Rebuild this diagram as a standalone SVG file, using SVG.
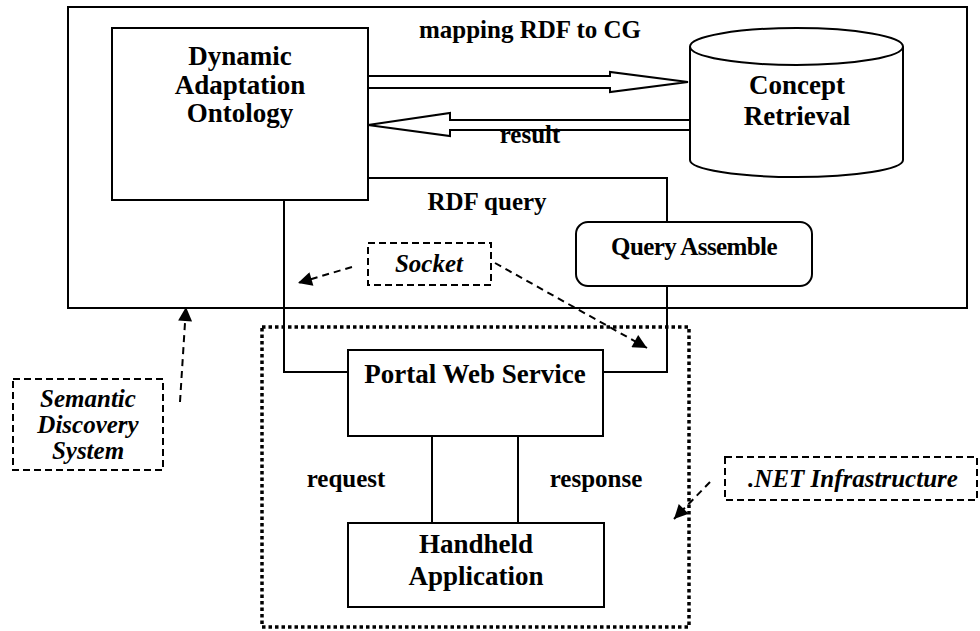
<svg xmlns="http://www.w3.org/2000/svg" width="980" height="631" viewBox="0 0 980 631">
  <defs>
    <style>
      .box { fill: #fff; stroke: #000; stroke-width: 2; }
      .frame { fill: none; stroke: #000; stroke-width: 2; }
      .dash { fill: none; stroke: #000; stroke-width: 2; stroke-dasharray: 7 4; }
      .dots { fill: none; stroke: #000; stroke-width: 3.5; stroke-dasharray: 3.5 3; }
      .wire { fill: none; stroke: #000; stroke-width: 2; }
      .block { fill: #fff; stroke: #000; stroke-width: 2; stroke-linejoin: miter; }
      .ptr { fill: none; stroke: #000; stroke-width: 2; stroke-dasharray: 7 5; marker-end: url(#head); }
      text { font-family: "Liberation Serif", "Times New Roman", serif; font-weight: bold; fill: #000; text-anchor: middle; }
      .t27 { font-size: 27px; }
      .t25 { font-size: 25px; }
      .it { font-style: italic; font-size: 25px; }
    </style>
    <marker id="head" viewBox="0 0 10 10" refX="10" refY="5" markerWidth="15" markerHeight="14" markerUnits="userSpaceOnUse" orient="auto">
      <path d="M0,0 L10,5 L0,10 z" fill="#000"/>
    </marker>
  </defs>

  <rect width="980" height="631" fill="#fff"/>

  <!-- Semantic discovery system frame -->
  <g id="system-frame">
    <rect class="frame" x="68" y="7" width="899" height="301"/>
  </g>

  <!-- .NET infrastructure dotted region -->
  <g id="net-region">
    <rect class="dots" x="262" y="327" width="427" height="300"/>
  </g>

  <!-- connectors -->
  <g id="connectors">
    <!-- mapping RDF to CG -->
    <polygon class="block" points="368,76 610,76 610,72 688,82 610,92 610,88 368,88"/>
    <!-- result -->
    <polygon class="block" points="690,120 450,120 450,113 368,125 450,136 450,130 690,130"/>
    <!-- RDF query path -->
    <polyline class="wire" points="368,178 667,178 667,222"/>
    <polyline class="wire" points="667,286 667,372 603,372"/>
    <polyline class="wire" points="284,200 284,372 348,372"/>
    <!-- request / response -->
    <line class="wire" x1="432" y1="436" x2="432" y2="523"/>
    <line class="wire" x1="518" y1="436" x2="518" y2="523"/>
    <!-- callout pointers -->
    <line class="ptr" x1="352" y1="267" x2="298" y2="283"/>
    <line class="ptr" x1="495" y1="263" x2="647" y2="348"/>
    <line class="ptr" x1="180" y1="402" x2="186" y2="307"/>
    <line class="ptr" x1="710" y1="482" x2="674" y2="519"/>
  </g>

  <!-- connector labels -->
  <g id="labels">
    <text class="t25" x="530" y="38">mapping RDF to CG</text>
    <text class="t25" x="530" y="143">result</text>
    <text class="t25" x="487" y="210">RDF query</text>
    <text class="t25" x="346" y="487">request</text>
    <text class="t25" x="596" y="487">response</text>
  </g>

  <g id="dynamic-adaptation-ontology">
    <rect class="box" x="112" y="28" width="256" height="172"/>
    <text class="t27" x="240" y="65">Dynamic</text>
    <text class="t27" x="240" y="94">Adaptation</text>
    <text class="t27" x="240" y="122">Ontology</text>
  </g>

  <g id="concept-retrieval">
    <path class="box" d="M690,46.5 L690,160 A106.5,17 0 0 0 903,160 L903,46.5"/>
    <ellipse class="box" cx="796.5" cy="46.5" rx="106.5" ry="18.5"/>
    <text class="t27" x="797" y="94">Concept</text>
    <text class="t27" x="797" y="125">Retrieval</text>
  </g>

  <g id="query-assemble">
    <rect class="box" x="576" y="222" width="236" height="64" rx="12" ry="12"/>
    <text class="t25" x="694" y="255" letter-spacing="-0.6">Query Assemble</text>
  </g>

  <g id="socket">
    <rect class="dash" x="368" y="243" width="123" height="42"/>
    <text class="it" x="429" y="272">Socket</text>
  </g>

  <g id="portal-web-service">
    <rect class="box" x="348" y="350" width="255" height="86"/>
    <text class="t27" x="475" y="383">Portal Web Service</text>
  </g>

  <g id="handheld-application">
    <rect class="box" x="348" y="523" width="256" height="84"/>
    <text class="t27" x="476" y="553">Handheld</text>
    <text class="t27" x="476" y="585">Application</text>
  </g>

  <g id="semantic-discovery-system">
    <rect class="dash" x="13" y="379" width="150" height="91"/>
    <text class="it" x="88" y="407">Semantic</text>
    <text class="it" x="88" y="433">Discovery</text>
    <text class="it" x="88" y="459">System</text>
  </g>

  <g id="net-infrastructure">
    <rect class="dash" x="725" y="457" width="252" height="43"/>
    <text class="it" x="853" y="487">.NET Infrastructure</text>
  </g>
</svg>
